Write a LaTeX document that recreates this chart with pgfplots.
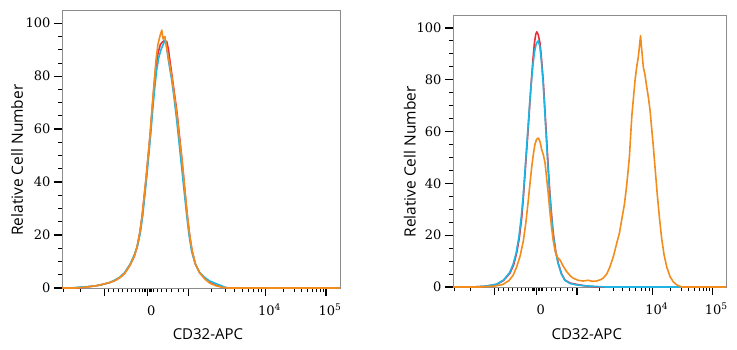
\documentclass[border=0pt]{standalone}
\usepackage{pgfplots}
\pgfplotsset{compat=1.18}
\usepackage{fontspec}
\setmainfont{Open Sans}
\newfontfamily\tickfont{DejaVu Serif}
\definecolor{cred}{HTML}{E8303A}
\definecolor{ccyan}{HTML}{1FB4E2}
\definecolor{corange}{HTML}{F28C1C}
\pgfplotsset{flowstyle/.style={
  scale only axis,
  xmin=0, xmax=100, ymin=0, ymax=105,
  axis line style={draw=black!45, line width=0.6pt},
  xtick={15.2,30.7,45.4,73.2,95},
  xticklabels={,0,,10\textsuperscript{4},10\textsuperscript{5}},
  minor xtick={0.5,6.5,16.7,18.5,20.3,21.8,23.5,25.1,26.6,27.8,29.0,29.5,30.0,31.3,31.8,32.3,32.8,34.3,35.9,37.7,39.5,41.8,43.6,53.8,58.7,62.1,64.8,67.0,68.9,70.5,71.9,79.8,83.6,86.3,88.4,90.2,91.6,92.9,94.0},
  ytick={0,20,...,100},
  minor y tick num=3,
  tick align=outside, tick pos=left,
  major tick length=8pt, minor tick length=4pt,
  major tick style={black, line width=1.3pt},
  minor tick style={black, line width=0.9pt},
  tick label style={font=\tickfont\fontsize{13}{14}\selectfont},
  /pgf/number format/assume math mode=true,
  xticklabel style={anchor=base, xshift=4pt, yshift=-19pt},
  clip=false,
  xlabel={CD32-APC}, ylabel={Relative Cell Number},
  every axis plot/.append style={line width=1.6pt, line join=round},
}}
\begin{document}
\begin{tikzpicture}
\path[use as bounding box] (0,0) rectangle (737pt,-350pt);
% ---------- left panel
\begin{axis}[flowstyle, width=278pt, height=278pt, at={(62pt,-10pt)}, anchor=north west,
  every axis x label/.style={at={(axis description cs:0.525,-0.165)}, anchor=center, font=\fontsize{15}{16}\selectfont},
  every axis y label/.style={at={(axis description cs:-0.162,0.46)}, rotate=90, anchor=center, font=\fontsize{15.5}{16}\selectfont}]
\addplot[cred] coordinates {
(0,0) (5,0) (9,0.4) (12,0.8) (14,1.2) (17,2) (19,2.8) (20.9,4) (22.5,5.5) (24.5,8.7) (26,12) (27,15.5) (28,21) (28.8,27) (29.5,34) (30.2,41) (31,50) (31.7,58) (32.4,67) (33.1,76) (33.8,84) (34.6,89) (35.4,92) (36.2,93) (37,93.5) (37.7,93) (38.3,90) (38.8,86) (39.6,80) (40.5,73) (41.4,66) (42.3,57) (43.2,48) (44.1,38) (45,28) (45.9,20) (46.8,14) (48,9) (49.6,5.6) (51.5,3.5) (53.2,2) (55.5,1) (57.9,0.3) (60,0) (100,0)};
\addplot[ccyan] coordinates {
(0,0) (3,0) (6,0.3) (9,0.5) (12,0.8) (14,1.2) (17,2) (19,3) (20.9,4.2) (22.5,5.8) (24.5,9) (26,12.5) (27.2,16) (28.2,21) (29,27) (29.7,34) (30.4,41) (31.2,50) (31.9,58) (32.6,67) (33.3,75) (34,82) (34.8,87) (35.6,90) (36.4,92) (37,93.6) (37.5,92) (38,88) (38.6,84) (39.4,79) (40.3,72) (41.2,64) (42.1,55) (43,46) (43.9,37) (44.8,28) (45.7,20) (46.6,14) (47.8,9.5) (49.4,6) (51.3,4) (53.2,2.6) (55.5,1.6) (57.5,0.8) (58.6,0.2) (60,0) (100,0)};
\addplot[corange] coordinates {
(0,0) (5,0) (9,0.4) (12,0.8) (14,1.2) (17,2) (19,2.8) (20.9,4) (22.5,5.5) (24.5,8.7) (26,12) (27,15.5) (28,21) (28.8,27) (29.5,34) (30.2,41) (31,50) (31.7,58) (32.4,68) (33.1,77) (33.8,86) (34.5,92) (35.2,95) (35.9,97.4) (36.4,94) (37,95) (37.6,91) (38.1,88) (38.8,84) (39.6,79) (40.5,72) (41.4,65) (42.3,56) (43.2,48) (44.1,38) (45,28) (45.9,20) (46.8,14) (48,9) (49.6,5.6) (51.5,3.3) (53.2,1.8) (55.5,0.8) (57.9,0.2) (60,0) (100,0)};
\end{axis}
% ---------- right panel
\begin{axis}[flowstyle, width=273pt, height=272pt, at={(453pt,-15pt)}, anchor=north west,
  every axis x label/.style={at={(axis description cs:0.49,-0.173)}, anchor=center, font=\fontsize{15}{16}\selectfont},
  every axis y label/.style={at={(axis description cs:-0.158,0.46)}, rotate=90, anchor=center, font=\fontsize{15.5}{16}\selectfont}]
\addplot[cred] coordinates {
(0,0) (7,0) (12,0.3) (16,1) (18.5,2.5) (20.9,5.4) (22.2,8.5) (23.3,13) (24.3,19) (25.2,27) (25.8,35) (26.4,44) (27,53) (27.6,62) (28.2,72) (28.8,81) (29.3,88) (29.8,94) (30.3,97.5) (30.7,98.5) (31.2,97.5) (31.9,94) (32.5,87) (33.1,79) (33.7,68) (34.3,57) (34.9,46) (35.5,36) (36.1,28) (36.7,21) (37.6,14) (38.6,9) (39.8,5) (41,2.7) (43,1.5) (45.3,1) (48,0.5) (52.6,0) (100,0)};
\addplot[ccyan] coordinates {
(0,0) (7,0) (12,0.3) (16,1.1) (18.5,2.7) (20.7,5.5) (22,8.7) (23.1,13) (24.1,19) (25,27) (25.7,35) (26.3,44) (26.9,53) (27.5,62) (28.1,71) (28.7,79) (29.3,86) (29.9,91) (30.5,94) (31.2,95) (31.8,93) (32.4,87) (33,79) (33.6,68) (34.2,57) (34.8,46) (35.4,36) (36,28) (36.6,21) (37.5,14) (38.5,9) (39.7,5) (41,2.5) (43,1.3) (45.3,0.8) (48,0.5) (52.6,0.2) (56,0) (100,0)};
\addplot[corange] coordinates {
(0,0) (10,0) (15,0.3) (18.3,1) (20.5,2.5) (22,4.5) (23.3,7.7) (24.6,12) (25.8,18) (26.7,25) (27.6,33.6) (28.2,40) (28.8,46) (29.4,51) (30,55) (30.6,57) (31.3,57.5) (31.9,56) (32.5,53) (33.1,51) (33.7,48) (34.3,42) (34.9,36) (35.5,29) (36.1,23) (36.7,18) (37.4,14) (38.2,11.5) (39.2,10.4) (40.4,8) (41.6,6) (42.8,4.5) (44,3.4) (45.8,2.6) (47.7,2.3) (49.5,2.6) (51,2.2) (52.6,2.3) (54,2.8) (55,3.4) (56.3,5) (57.5,7.8) (58.8,12) (60,17) (61,21) (61.8,26) (62.8,32) (63.6,39) (64.6,50) (65.5,66) (66.1,73) (66.7,80) (67.3,85) (67.9,89) (68.3,93) (68.7,97) (69.1,92) (69.7,85) (70.3,82) (71,77) (71.6,73) (72.2,68) (72.8,61) (73.4,54) (74.1,45) (74.8,36) (75.6,27) (76.4,19) (77.3,12.5) (78.3,7.7) (79.5,4) (80.7,2) (82,0.8) (83.8,0) (100,0)};
\end{axis}
\end{tikzpicture}
\end{document}
